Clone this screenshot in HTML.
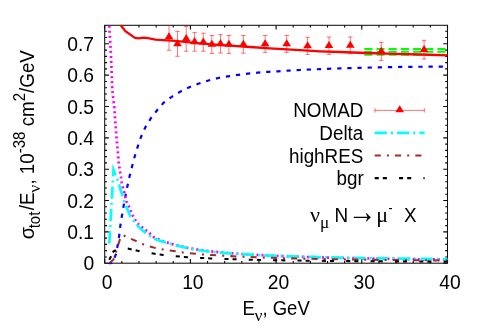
<!DOCTYPE html>
<html lang="en"><head><meta charset="utf-8"><title>Total neutrino cross section</title>
<style>html,body{margin:0;padding:0;background:#fff}svg{display:block;will-change:transform}text{font-family:"Liberation Sans",sans-serif;font-size:18.9px;fill:#000}.sy{font-family:"Liberation Serif",serif}.s{font-size:15.12px}</style></head><body>
<svg width="485" height="329" viewBox="0 0 485 329">
<rect width="485" height="329" fill="#fff"/>
<path d="M104.7 263.2 v-4.2 M104.7 25.3 v4.2 M121.84 263.2 v-2.3 M121.84 25.3 v2.3 M138.98 263.2 v-2.3 M138.98 25.3 v2.3 M156.12 263.2 v-2.3 M156.12 25.3 v2.3 M173.26 263.2 v-2.3 M173.26 25.3 v2.3 M190.4 263.2 v-4.2 M190.4 25.3 v4.2 M207.54 263.2 v-2.3 M207.54 25.3 v2.3 M224.68 263.2 v-2.3 M224.68 25.3 v2.3 M241.82 263.2 v-2.3 M241.82 25.3 v2.3 M258.96 263.2 v-2.3 M258.96 25.3 v2.3 M276.1 263.2 v-4.2 M276.1 25.3 v4.2 M293.24 263.2 v-2.3 M293.24 25.3 v2.3 M310.38 263.2 v-2.3 M310.38 25.3 v2.3 M327.52 263.2 v-2.3 M327.52 25.3 v2.3 M344.66 263.2 v-2.3 M344.66 25.3 v2.3 M361.8 263.2 v-4.2 M361.8 25.3 v4.2 M378.94 263.2 v-2.3 M378.94 25.3 v2.3 M396.08 263.2 v-2.3 M396.08 25.3 v2.3 M413.22 263.2 v-2.3 M413.22 25.3 v2.3 M430.36 263.2 v-2.3 M430.36 25.3 v2.3 M447.5 263.2 v-4.2 M447.5 25.3 v4.2 M104.7 263.2 h4.2 M447.5 263.2 h-4.2 M104.7 256.93 h2.3 M447.5 256.93 h-2.3 M104.7 250.66 h2.3 M447.5 250.66 h-2.3 M104.7 244.4 h2.3 M447.5 244.4 h-2.3 M104.7 238.13 h2.3 M447.5 238.13 h-2.3 M104.7 231.86 h4.2 M447.5 231.86 h-4.2 M104.7 225.59 h2.3 M447.5 225.59 h-2.3 M104.7 219.32 h2.3 M447.5 219.32 h-2.3 M104.7 213.06 h2.3 M447.5 213.06 h-2.3 M104.7 206.79 h2.3 M447.5 206.79 h-2.3 M104.7 200.52 h4.2 M447.5 200.52 h-4.2 M104.7 194.25 h2.3 M447.5 194.25 h-2.3 M104.7 187.98 h2.3 M447.5 187.98 h-2.3 M104.7 181.72 h2.3 M447.5 181.72 h-2.3 M104.7 175.45 h2.3 M447.5 175.45 h-2.3 M104.7 169.18 h4.2 M447.5 169.18 h-4.2 M104.7 162.91 h2.3 M447.5 162.91 h-2.3 M104.7 156.64 h2.3 M447.5 156.64 h-2.3 M104.7 150.38 h2.3 M447.5 150.38 h-2.3 M104.7 144.11 h2.3 M447.5 144.11 h-2.3 M104.7 137.84 h4.2 M447.5 137.84 h-4.2 M104.7 131.57 h2.3 M447.5 131.57 h-2.3 M104.7 125.3 h2.3 M447.5 125.3 h-2.3 M104.7 119.04 h2.3 M447.5 119.04 h-2.3 M104.7 112.77 h2.3 M447.5 112.77 h-2.3 M104.7 106.5 h4.2 M447.5 106.5 h-4.2 M104.7 100.23 h2.3 M447.5 100.23 h-2.3 M104.7 93.96 h2.3 M447.5 93.96 h-2.3 M104.7 87.7 h2.3 M447.5 87.7 h-2.3 M104.7 81.43 h2.3 M447.5 81.43 h-2.3 M104.7 75.16 h4.2 M447.5 75.16 h-4.2 M104.7 68.89 h2.3 M447.5 68.89 h-2.3 M104.7 62.62 h2.3 M447.5 62.62 h-2.3 M104.7 56.36 h2.3 M447.5 56.36 h-2.3 M104.7 50.09 h2.3 M447.5 50.09 h-2.3 M104.7 43.82 h4.2 M447.5 43.82 h-4.2 M104.7 37.55 h2.3 M447.5 37.55 h-2.3 M104.7 31.28 h2.3 M447.5 31.28 h-2.3" fill="none" stroke="#000" stroke-width="1.1"/>
<rect x="104.7" y="25.3" width="342.8" height="237.9" fill="none" stroke="#111" stroke-width="1.05"/>
<g fill="none" stroke-linejoin="miter" stroke-miterlimit="10">
<path d="M364.3 49.05 H447.5" stroke="#00ff00" stroke-width="1.9" stroke-dasharray="8.12 4.06"/>
<path d="M364.3 51.85 H447.5" stroke="#00ff00" stroke-width="1.9" stroke-dasharray="8.12 4.06"/>
<path d="M364.3 54.7 H447.5" stroke="#00ff00" stroke-width="1.9" stroke-dasharray="8.12 4.06"/>
<path d="M120.8 25.3 L125.4 31.1 L135 37.9 L139 38.35 L143.35 37.6 L148 38.1 L155.5 39.7 L163.5 40.2 L175 40.9 L185 41.9 L200 43.3 L215 44.6 L230 45.7 L250 47 L270 48.3 L300 50.2 L320 51.3 L340 52 L366 53 L396 53.8 L420 54.5 L447.5 55.3" stroke="#ff0000" stroke-width="2.3"/>
<path d="M169 25.3 V50.3 M166.8 50.3 h4.4 M177.5 31.4 V56.3 M175.3 56.3 h4.4 M175.3 31.4 h4.4 M186.2 26.4 V51.2 M184 51.2 h4.4 M184 26.4 h4.4 M194.6 32.4 V51.2 M192.4 51.2 h4.4 M192.4 32.4 h4.4 M203.3 33.2 V51.2 M201.1 51.2 h4.4 M201.1 33.2 h4.4 M211.9 35.5 V53.4 M209.7 53.4 h4.4 M209.7 35.5 h4.4 M220.5 34.6 V53 M218.3 53 h4.4 M218.3 34.6 h4.4 M228.9 35.5 V53.4 M226.7 53.4 h4.4 M226.7 35.5 h4.4 M243.4 35.5 V53.2 M241.2 53.2 h4.4 M241.2 35.5 h4.4 M265.1 35.5 V52.4 M262.9 52.4 h4.4 M262.9 35.5 h4.4 M286.7 35.5 V52.4 M284.5 52.4 h4.4 M284.5 35.5 h4.4 M307.6 37.3 V54.4 M305.4 54.4 h4.4 M305.4 37.3 h4.4 M329 37 V54.4 M326.8 54.4 h4.4 M326.8 37 h4.4 M350.3 37 V53.7 M348.1 53.7 h4.4 M348.1 37 h4.4 M381.3 42.3 V60.4 M379.1 60.4 h4.4 M379.1 42.3 h4.4 M424.1 40.3 V59 M421.9 59 h4.4 M421.9 40.3 h4.4" stroke="#ff0000" stroke-width="0.55"/>
<path d="M169 32.28 l-4.35 7.05 h8.7 z M177.5 39.13 l-4.35 7.05 h8.7 z M186.2 34.08 l-4.35 7.05 h8.7 z M194.6 37.08 l-4.35 7.05 h8.7 z M203.3 37.48 l-4.35 7.05 h8.7 z M211.9 39.73 l-4.35 7.05 h8.7 z M220.5 39.08 l-4.35 7.05 h8.7 z M228.9 39.73 l-4.35 7.05 h8.7 z M243.4 39.63 l-4.35 7.05 h8.7 z M265.1 39.23 l-4.35 7.05 h8.7 z M286.7 39.23 l-4.35 7.05 h8.7 z M307.6 41.13 l-4.35 7.05 h8.7 z M329 40.98 l-4.35 7.05 h8.7 z M350.3 40.63 l-4.35 7.05 h8.7 z M381.3 46.63 l-4.35 7.05 h8.7 z M424.1 44.93 l-4.35 7.05 h8.7 z" fill="#ff0000" stroke="none"/>
<path d="M109.28 263.4 L113.4 262.3 L114.6 257.5 L116.3 253.4 L117.2 247.5 L117.6 246.1 L119.2 235.6 L120.4 225.3 L122 215.4 L123.8 204.9 L125.4 196.2 L127.5 185.7 L129.7 175.8 L132.2 165.9 L134.7 156.5 L137.7 146.6 L141 137 L145.1 127.7 L150.6 118.7 L156.9 110.5 L163.5 102.9 L171.7 96.8 L180.7 91.4 L189.3 87.2 L199 83.5 L208.4 80.5 L218.3 78 L228.2 76.3 L238.1 74.8 L248 73.6 L257.9 72.6 L268.3 71.8 L278.2 71.3 L288.3 70.6 L300 70 L320 69.1 L340 68.4 L360 67.8 L380 67.3 L400 66.95 L420 66.75 L447.5 66.55" stroke="#0000ff" stroke-width="2.2" stroke-dasharray="4.26 5.89" stroke-dashoffset="1.15"/>
<path d="M109.2 25.3 L110.8 51.5 L112.3 90 L113.4 100 L114.2 106.4 L116.4 136.5 L118.3 157 L118.6 162.1 L119.4 167.2 L120.2 172.4 L121 177.3 L121.7 182.3 L122.8 187.2 L124.2 192.2 L125.3 197.1 L126.6 201.95 L128.8 206.5 L130.8 211.1 L132.85 215.85 L135.15 219.8 L137.8 223.8 L141.9 227.05 L145.9 230.3 L149.6 233.3 L153.6 236.9 L158.2 239 L162.9 240.95 L167.5 242.6 L176 245.15 L187.6 247.85 L197.8 249.65 L210 251.3 L220 252.25 L230 253.13 L240 253.89 L250 254.54 L260 255.1 L270 255.6 L280 256.04 L290 256.43 L300 256.79 L310 257.1 L320 257.39 L330 257.66 L340 257.9 L350 258.12 L360 258.32 L370 258.51 L380 258.69 L390 258.85 L400 259 L410 259.14 L420 259.27 L430 259.4 L440 259.52 L447.5 259.6" stroke="#ff00ff" stroke-width="2.7" stroke-dasharray="2.03 3.011" stroke-dashoffset="4.606"/>
<path d="M109.28 243.3 L113.5 169.8 L117.7 180 L119.5 186 L122.5 196.1 L124.05 200.85 L126.2 206.2 L130.3 216.4 L133.9 221.1 L137.3 225.4 L141 229.1 L145.6 233 L150.2 236.1 L154.5 238.8 L160.5 240.9 L166.5 242.7 L171.2 244.1 L176 245.5 L187.6 248.2 L192.6 249.2 L197.8 250 L205 251 L210 251.65 L220 252.55 L230 253.34 L240 254.01 L250 254.59 L260 255.1 L270 255.54 L280 255.94 L290 256.29 L300 256.6 L310 256.89 L320 257.15 L330 257.38 L340 257.6 L350 257.79 L360 257.98 L370 258.15 L380 258.3 L390 258.45 L400 258.58 L410 258.71 L420 258.83 L430 258.94 L440 259.04 L447.5 259.12" stroke="#00ffff" stroke-width="2.7" stroke-dasharray="12.18 4.06 2.03 4.06"/>
<path d="M109.28 263.2 L113.56 259.5 L116 251.9 L117.84 246.2 L119.9 239.3 L122.13 235 L124.8 236 L126.41 236.7 L130.9 238.8 L137.1 241.5 L143.1 244.3 L150.1 246.6 L156.3 248.3 L163 249.5 L169.8 250.5 L176.7 251.5 L182.8 252.4 L189.6 253.2 L195.8 253.85 L203 254.45 L212.4 255.05 L220 255.5 L230 256.1 L240 256.62 L250 257.06 L260 257.44 L270 257.78 L280 258.08 L290 258.35 L300 258.59 L310 258.8 L320 259 L330 259.18 L340 259.34 L350 259.49 L360 259.63 L370 259.76 L380 259.88 L390 259.99 L400 260.09 L410 260.19 L420 260.28 L430 260.36 L440 260.44 L447.5 260.5" stroke="#a52a2a" stroke-width="2.05" stroke-dasharray="6.09 6.09 2.03 6.09" stroke-dashoffset="19.5"/>
<path d="M109.28 259.8 L113.56 251.3 L116 250 L119 248.9 L122.13 248.2 L125 248 L127.8 248.4 L131.6 249.5 L135.3 250.2 L139.6 251.3 L145 252.2 L152 253.3 L155.7 253.9 L159.6 254.5 L163.7 255 L170 255.7 L176 256.3 L179.8 256.6 L183.9 256.95 L188 257.25 L194 257.6 L199.9 257.9 L204 258.1 L210 258.4 L220 258.77 L230 259.13 L240 259.43 L250 259.69 L260 259.91 L270 260.11 L280 260.29 L290 260.45 L300 260.59 L310 260.71 L320 260.83 L330 260.93 L340 261.03 L350 261.12 L360 261.2 L370 261.28 L380 261.35 L390 261.41 L400 261.47 L410 261.53 L420 261.58 L430 261.63 L440 261.68 L447.5 261.71" stroke="#000" stroke-width="2.05" stroke-dasharray="4.06 4.06 4.06 12.18"/>
</g>
<text transform="translate(94.1 270.3) scale(1.02 1.1)" text-anchor="end">0</text>
<text transform="translate(94.1 238.96) scale(1.02 1.1)" text-anchor="end">0.1</text>
<text transform="translate(94.1 207.62) scale(1.02 1.1)" text-anchor="end">0.2</text>
<text transform="translate(94.1 176.28) scale(1.02 1.1)" text-anchor="end">0.3</text>
<text transform="translate(94.1 144.94) scale(1.02 1.1)" text-anchor="end">0.4</text>
<text transform="translate(94.1 113.6) scale(1.02 1.1)" text-anchor="end">0.5</text>
<text transform="translate(94.1 82.26) scale(1.02 1.1)" text-anchor="end">0.6</text>
<text transform="translate(94.1 50.92) scale(1.02 1.1)" text-anchor="end">0.7</text>
<text transform="translate(107.15 289.4) scale(1.02 1.1)" text-anchor="middle">0</text>
<text transform="translate(192.85 289.4) scale(1.02 1.1)" text-anchor="middle">10</text>
<text transform="translate(278.55 289.4) scale(1.02 1.1)" text-anchor="middle">20</text>
<text transform="translate(364.25 289.4) scale(1.02 1.1)" text-anchor="middle">30</text>
<text transform="translate(449.95 289.4) scale(1.02 1.1)" text-anchor="middle">40</text>
<text transform="translate(242.4 315) scale(0.979 1.075)">E</text>
<text transform="translate(254.44 320.97) scale(1.17 1.08)" class="sy s">ν</text>
<text transform="translate(262.45 315) scale(0.979 1.075)">, GeV</text>
<g transform="translate(34.1 237.6) rotate(-90)">
<text transform="translate(-1.6 0) scale(1.06 1.075)">σ</text>
<text transform="translate(9.24 5.97) scale(0.994 1.075)" class="s">tot</text>
<text transform="translate(27.45 0) scale(0.994 1.075)">/E</text>
<text transform="translate(44.9 5.97) scale(1.17 1.08)" class="sy s">ν</text>
<text transform="translate(53.03 0) scale(0.994 1.075)">, 10</text>
<text transform="translate(84.37 -9.45) scale(0.994 1.075)" class="s">-38</text>
<text transform="translate(106.08 0) scale(0.994 1.075)" xml:space="preserve"> cm</text>
<text transform="translate(136.35 -9.45) scale(0.994 1.075)" class="s">2</text>
<text transform="translate(144.71 0) scale(0.994 1.075)">/GeV</text>
</g>
<text transform="translate(363.3 116.8) scale(0.997 1.075)" text-anchor="end">NOMAD</text>
<text transform="translate(363.3 139.6) scale(0.997 1.055)" text-anchor="end">Delta</text>
<text transform="translate(363.3 162.6) scale(0.997 1.055)" text-anchor="end">highRES</text>
<text transform="translate(363.7 185.4) scale(0.997 1.055)" text-anchor="end">bgr</text>
<path d="M374.7 110.4 H424.6 M375 108.2 v4.4 M424.3 108.2 v4.4" fill="none" stroke="#ff0000" stroke-width="0.55"/>
<path d="M399.7 105.28 l-4.35 7.05 h8.7 z" fill="#ff0000"/>
<path d="M374.7 132.8 H424.6" stroke="#00ffff" stroke-width="2.7" stroke-dasharray="12.18 4.06 2.03 4.06"/>
<path d="M374.7 155.5 H424.6" stroke="#a52a2a" stroke-width="2.05" stroke-dasharray="6.09 6.09 2.03 6.09"/>
<path d="M374.7 178.1 H424.6" stroke="#000" stroke-width="2.05" stroke-dasharray="4.06 4.06 4.06 12.18"/>
<text transform="translate(310 221.7) scale(1.17 1.08)" class="sy">ν</text>
<text transform="translate(320 227.67) scale(1.14 1.05)" class="sy s">μ</text>
<text transform="translate(334.5 221.7) scale(1 1.07)">N</text>
<text transform="translate(347.9 223) scale(1 1.2)" class="sy" style="font-size:28.4px">→</text>
<text transform="translate(376.2 221.7) scale(1.17 1.08)" class="sy">μ</text>
<text transform="translate(388.6 212.95) scale(0.8 1)" class="s">-</text>
<text transform="translate(404 221.7) scale(1 1.09)">X</text>
</svg></body></html>
